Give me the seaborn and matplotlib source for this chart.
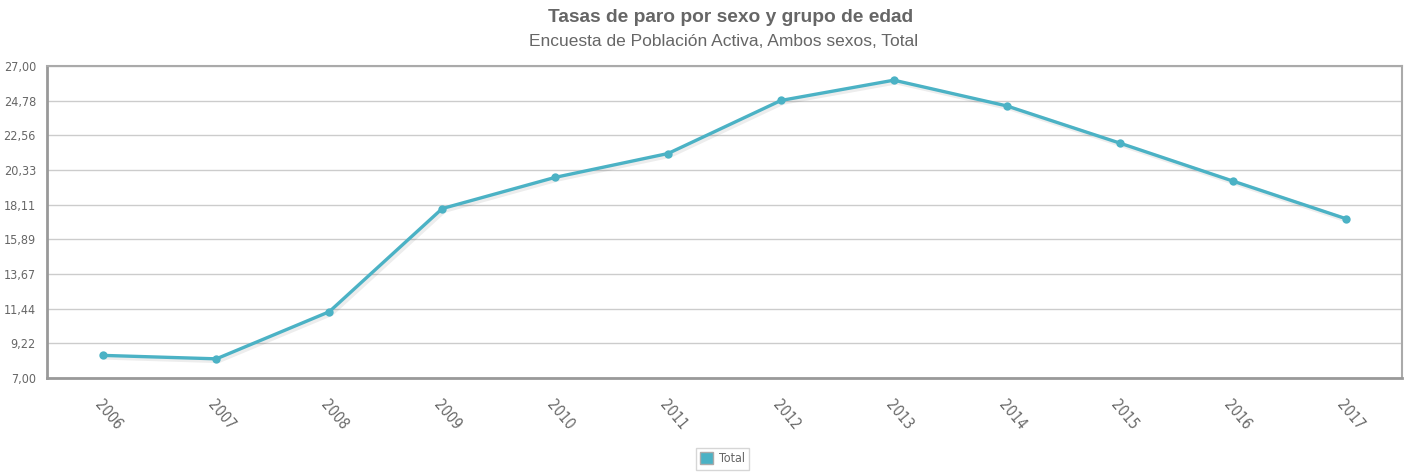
import seaborn as sns
import matplotlib.pyplot as plt
import matplotlib.patches as mpatches
import pandas as pd
import numpy as np

# Data
years = ['2006', '2007', '2008', '2009', '2010', '2011', '2012', '2013', '2014', '2015', '2016', '2017']
total = [8.45, 8.23, 11.25, 17.86, 19.86, 21.39, 24.79, 26.09, 24.44, 22.06, 19.63, 17.22]
y_ticks = [7.00, 9.22, 11.44, 13.67, 15.89, 18.11, 20.33, 22.56, 24.78, 27.00]

df = pd.DataFrame({'year': years, 'total': total})
df['pos'] = range(len(years))

sns.set_style('white')
plt.rcParams['font.family'] = ['Liberation Sans', 'DejaVu Sans']

line_color = '#4bb2c5'
grey = '#666666'

fig = plt.figure(figsize=(14.11, 4.73), dpi=100)
ax = fig.add_axes([0.0333, 0.2008, 0.9603, 0.6597])

# soft shadow under the line
ax.plot(df['pos'] + 0.02, np.array(total) - 0.12, color='#000000', alpha=0.07, lw=3.5, zorder=1)
sns.lineplot(data=df, x='pos', y='total', color=line_color, lw=2.4, marker='o',
             markersize=6, markeredgewidth=0, ax=ax, zorder=3)

ax.set_xlim(-0.5, len(years) - 0.5)
ax.set_ylim(7, 27)
ax.set_yticks(y_ticks)
ax.set_yticklabels([f'{v:.2f}'.replace('.', ',') for v in y_ticks],
                   fontsize=9, color=grey, family='DejaVu Sans', fontstretch='condensed')
ax.yaxis.grid(True, color='#cccccc', lw=1)
ax.set_axisbelow(True)

# category ticks between groups, labels in the middle
ax.set_xticks(np.arange(0.5, len(years) - 0.5, 1))
ax.set_xticklabels([])
ax.set_xticks(df['pos'], minor=True)
ax.set_xticklabels(years, minor=True, rotation=-50, ha='left', va='top',
                   rotation_mode='anchor', fontsize=10.5, color=grey,
                   family='DejaVu Sans', fontstretch='condensed')
ax.tick_params(axis='x', which='minor', length=0, pad=14)
ax.tick_params(axis='x', which='major', length=5, color='#999999', direction='out')
ax.tick_params(axis='y', length=5, color='#999999', pad=3)
ax.set_xlabel('')
ax.set_ylabel('')

for side in ['top', 'right']:
    ax.spines[side].set_color('#aaaaaa')
    ax.spines[side].set_linewidth(1.5)
for side in ['left', 'bottom']:
    ax.spines[side].set_color('#999999')
    ax.spines[side].set_linewidth(2)

fig.text(0.518, 0.962, 'Tasas de paro por sexo y grupo de edad', ha='center', va='center',
         fontsize=13.8, fontweight='bold', color=grey)
fig.text(0.513, 0.912, 'Encuesta de Población Activa, Ambos sexos, Total', ha='center', va='center',
         fontsize=12.5, color=grey)

handle = mpatches.Patch(facecolor=line_color, edgecolor='#aaaaaa', label='Total')
leg = fig.legend(handles=[handle], loc='center', bbox_to_anchor=(0.512, 0.03),
                 fontsize=9, frameon=True, handlelength=1.0, handleheight=1.0,
                 borderpad=0.35, handletextpad=0.5, fancybox=False,
                 prop={'family': 'DejaVu Sans', 'stretch': 'condensed', 'size': 9})
leg.get_frame().set_edgecolor('#cccccc')
for t in leg.get_texts():
    t.set_color(grey)

fig.savefig('out.png', dpi=100)
